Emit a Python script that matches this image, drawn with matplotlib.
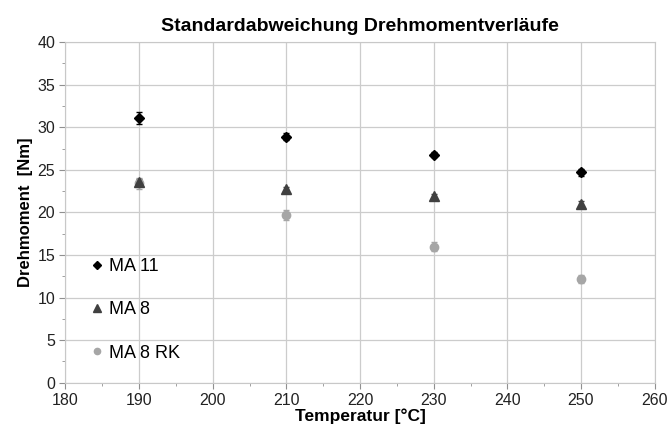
import matplotlib.pyplot as plt
from matplotlib.lines import Line2D
from matplotlib.ticker import MultipleLocator

plt.rcParams["font.family"] = ["Liberation Sans", "DejaVu Sans"]

# Daten
temperatur = [190, 210, 230, 250]
ma11 = [31.1, 28.9, 26.8, 24.7]
ma11_std = [0.7, 0.4, 0.3, 0.4]
ma8 = [23.6, 22.7, 21.9, 21.0]
ma8_std = [0.3, 0.3, 0.3, 0.3]
ma8rk = [23.4, 19.7, 16.0, 12.2]
ma8rk_std = [0.6, 0.6, 0.5, 0.5]

farben = {"MA 11": "black", "MA 8": "#404040", "MA 8 RK": "#a6a6a6"}
marker = {"MA 11": "D", "MA 8": "^", "MA 8 RK": "o"}

fig = plt.figure(figsize=(6.68, 4.34), dpi=100)
ax = fig.add_axes([0.098, 0.118, 0.882, 0.785])

ax.errorbar(temperatur, ma8rk, yerr=ma8rk_std, fmt="o", color=farben["MA 8 RK"],
            ms=6, capsize=2, elinewidth=1, zorder=3)
ax.errorbar(temperatur, ma8, yerr=ma8_std, fmt="^", color=farben["MA 8"],
            ms=7, capsize=2, elinewidth=1, zorder=3)
ax.errorbar(temperatur, ma11, yerr=ma11_std, fmt="D", color=farben["MA 11"],
            ms=5.5, capsize=2, elinewidth=1, zorder=3)

ax.set_xlim(180, 260)
ax.set_ylim(0, 40)
ax.xaxis.set_major_locator(MultipleLocator(10))
ax.xaxis.set_minor_locator(MultipleLocator(5))
ax.yaxis.set_major_locator(MultipleLocator(5))
ax.yaxis.set_minor_locator(MultipleLocator(2.5))
ax.grid(True, which="major", color="#cccccc", linewidth=0.9)
ax.set_axisbelow(True)
for s in ax.spines.values():
    s.set_color("#c8c8c8")
ax.tick_params(which="both", colors="#909090", labelcolor="#222222",
               labelsize=11.5)
ax.tick_params(which="major", length=4)
ax.tick_params(which="minor", length=2)

ax.set_title("Standardabweichung Drehmomentverläufe", fontsize=14,
             fontweight="bold", pad=8)
ax.set_xlabel("Temperatur [°C]", fontsize=12.5, fontweight="bold", labelpad=0)
ax.set_ylabel("Drehmoment  [Nm]", fontsize=12, fontweight="bold", labelpad=3)

# Legende nur mit Markern
handles = [Line2D([], [], linestyle="none", marker=marker[k], color=farben[k],
                  markersize=4.5 if k != "MA 8" else 5.5)
           for k in ["MA 11", "MA 8", "MA 8 RK"]]
ax.legend(handles, ["MA 11", "MA 8", "MA 8 RK"], loc="lower left",
          bbox_to_anchor=(0.025, 0.025), frameon=False, fontsize=13,
          labelspacing=1.45, handlelength=0.5, handletextpad=0.4,
          borderaxespad=0.3)

plt.savefig("out.png", dpi=100)
